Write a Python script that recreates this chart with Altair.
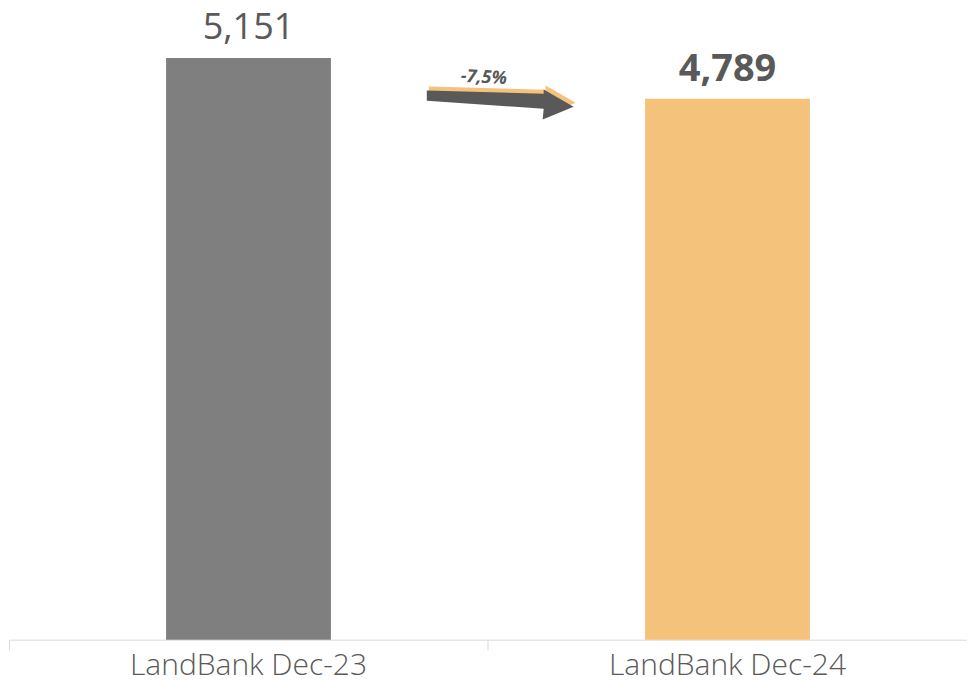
import altair as alt
import pandas as pd

categories = ["LandBank Dec-23", "LandBank Dec-24"]
values = [5151, 4789]
value_labels = ["5,151", "4,789"]
bold_flags = [False, True]
bar_colors = ["#7f7f7f", "#f4c27a"]
change_label = ["-7,5%"]

df = pd.DataFrame({
    "category": categories,
    "value": values,
    "label": value_labels,
    "bold": bold_flags,
    "color": bar_colors,
})
df["change"] = [change_label[0], change_label[0]]

FONT = "Open Sans"
GREY = "#595959"
ARROW = ("M -0.987 -0.111 L 0.573 -0.067 L 0.573 -0.124 L 0.973 0.107 "
         "L 0.56 0.276 L 0.573 0.133 L -0.987 0.027 Z")

x = alt.X("category:N", sort=categories, title=None,
          scale=alt.Scale(paddingInner=0, paddingOuter=0),
          axis=alt.Axis(labelAngle=0, labelFont=FONT, labelFontSize=30,
                        labelFontWeight=300, labelColor=GREY, labelLimit=0,
                        domainColor="#d9d9d9", tickColor="#d9d9d9",
                        tickSize=10, labelPadding=1, bandPosition=0,
                        ticks=True, grid=False))
y = alt.Y("value:Q", scale=alt.Scale(domain=[0, 5590]), axis=None)

base = alt.Chart(df)

bars = base.mark_bar(size=165).encode(
    x=x, y=y, color=alt.Color("color:N", scale=None))

lab_norm = base.transform_filter("!datum.bold").mark_text(
    font=FONT, fontSize=36, fontWeight=400, color=GREY, baseline="alphabetic", dy=-19
).encode(x=x, y=y, text="label:N")

lab_bold = base.transform_filter("datum.bold").mark_text(
    font=FONT, fontSize=38, fontWeight=700, color=GREY, baseline="alphabetic", dy=-18
).encode(x=x, y=y, text="label:N")

arrow_base = base.transform_filter("datum.bold")

arrow_shadow = arrow_base.mark_point(
    shape=ARROW, size=22500, filled=True, color="#f4c27a", opacity=1,
    strokeWidth=0, xOffset=-225, yOffset=-4
).encode(x=x, y=y)

arrow = arrow_base.mark_point(
    shape=ARROW, size=22500, filled=True, color=GREY, opacity=1,
    strokeWidth=0, xOffset=-227, yOffset=0
).encode(x=x, y=y)

change_text = arrow_base.mark_text(
    font=FONT, fontSize=18, fontWeight=700, fontStyle="italic", color=GREY,
    angle=3, xOffset=-244, yOffset=-21
).encode(x=x, y=y, text="change:N")

chart = alt.layer(bars, lab_norm, lab_bold, arrow_shadow, arrow, change_text).properties(
    width=959, height=632, background="white",
    padding={"left": 0, "top": 0, "right": 0, "bottom": 0},
).configure_view(stroke=None)

chart.save("out.html", embed_options={"renderer": "svg", "actions": False})
